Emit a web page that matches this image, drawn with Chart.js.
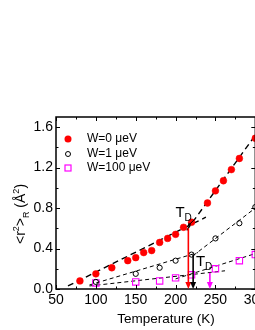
<!DOCTYPE html>
<html>
<head>
<meta charset="utf-8">
<script src="https://cdn.jsdelivr.net/npm/chart.js@4.4.1/dist/chart.umd.min.js"></script>
<style>
  html, body { margin: 0; padding: 0; background: #fff; overflow: hidden; }
  #wrap { width: 270px; height: 330px; }
</style>
</head>
<body>
<div id="wrap"><canvas id="msdChart"></canvas></div>
<script>
// W = 0 ueV (red filled circles)
const tempW0 = [80, 100, 120, 140, 150, 160, 170, 180, 190, 200, 210, 220, 240, 250, 260, 270, 280, 300];
const msdW0  = [0.08, 0.15, 0.21, 0.28, 0.31, 0.36, 0.38, 0.46, 0.50, 0.54, 0.61, 0.66, 0.85, 0.97, 1.07, 1.18, 1.29, 1.49];
// W = 1 ueV (open black circles)
const tempW1 = [100, 150, 180, 200, 220, 250, 280, 300];
const msdW1  = [0.07, 0.15, 0.21, 0.28, 0.34, 0.50, 0.65, 0.81];
// W = 100 ueV (open magenta squares)
const tempW100 = [100, 150, 180, 200, 220, 250, 280, 300];
const msdW100  = [0.06, 0.07, 0.08, 0.11, 0.14, 0.20, 0.28, 0.34];

// dashed linear fits: [T0, y0, T1, y1]
const fitW0Low   = [65, 0.03, 238, 0.71];
const fitW0High  = [214, 0.58, 300, 1.52];
const fitW1Low   = [92, 0.04, 228, 0.36];
const fitW1High  = [222, 0.33, 300, 0.80];
const fitW100Low = [92, 0.03, 262, 0.18];
const fitW100High= [200, 0.10, 300, 0.35];

// dynamical transition arrows
const tdTemps  = [216, 222, 243];
const tdTops   = [0.60, 0.34, 0.16];
const tdColors = ['#ff0000', '#000000', '#ff00ff'];
// "T_D" labels [T, y]
const tdLabels = [[206, 0.77], [232, 0.29]];
const tdPointer = [224, 0.69, 215, 0.62];

const legendNames = ['W=0 \u03bceV', 'W=1 \u03bceV', 'W=100 \u03bceV'];
const xMajor = [50, 100, 150, 200, 250, 300];
const xMinor = [75, 125, 175, 225, 275];
const yMajor = [0, 0.4, 0.8, 1.2, 1.6];
const yMinor = [0.2, 0.6, 1.0, 1.4];

const FONT = "'Liberation Sans', Arial, sans-serif";
const pts = (xs, ys) => xs.map((x, i) => ({ x: x, y: ys[i] }));
const seg = f => [{ x: f[0], y: f[1] }, { x: f[2], y: f[3] }];

function fitSet(f, w, dash) {
  return { data: seg(f), showLine: true, borderColor: '#000', borderWidth: w,
           borderDash: dash, pointRadius: 0, fill: false };
}

const decor = {
  id: 'decor',
  afterDatasetsDraw(chart) {
    const ctx = chart.ctx, a = chart.chartArea;
    const xs = chart.scales.x, ys = chart.scales.y;
    ctx.save();
    // frame
    ctx.strokeStyle = '#000';
    ctx.lineWidth = 1.5;
    ctx.strokeRect(a.left, a.top, a.right - a.left, a.bottom - a.top);
    // inward ticks
    ctx.lineWidth = 1;
    const tick = (vals, len) => {
      vals.forEach(v => {
        const px = Math.round(xs.getPixelForValue(v)) + 0.5;
        ctx.beginPath();
        ctx.moveTo(px, a.bottom); ctx.lineTo(px, a.bottom - len);
        ctx.moveTo(px, a.top); ctx.lineTo(px, a.top + len);
        ctx.stroke();
      });
    };
    tick(xMajor, 4); tick(xMinor, 2.5);
    const ytick = (vals, len) => {
      vals.forEach(v => {
        const py = Math.round(ys.getPixelForValue(v)) + 0.5;
        ctx.beginPath();
        ctx.moveTo(a.left, py); ctx.lineTo(a.left + len, py);
        ctx.moveTo(a.right, py); ctx.lineTo(a.right - len, py);
        ctx.stroke();
      });
    };
    ytick(yMajor, 4); ytick(yMinor, 2.5);

    // T_D arrows
    tdTemps.forEach((t, i) => {
      const px = xs.getPixelForValue(t);
      const top = ys.getPixelForValue(tdTops[i]);
      const bot = ys.getPixelForValue(0);
      ctx.strokeStyle = tdColors[i];
      ctx.fillStyle = tdColors[i];
      ctx.lineWidth = 1.6;
      ctx.beginPath();
      ctx.moveTo(px, top); ctx.lineTo(px, bot - 6);
      ctx.stroke();
      ctx.beginPath();
      ctx.moveTo(px - 3, bot - 7); ctx.lineTo(px + 3, bot - 7); ctx.lineTo(px, bot);
      ctx.closePath(); ctx.fill();
    });
    // small pointer from label to kink
    {
      const x0 = xs.getPixelForValue(tdPointer[0]), y0 = ys.getPixelForValue(tdPointer[1]);
      const x1 = xs.getPixelForValue(tdPointer[2]), y1 = ys.getPixelForValue(tdPointer[3]);
      ctx.strokeStyle = '#000'; ctx.fillStyle = '#000'; ctx.lineWidth = 1;
      ctx.beginPath(); ctx.moveTo(x0, y0); ctx.lineTo(x1, y1); ctx.stroke();
      const ang = Math.atan2(y1 - y0, x1 - x0);
      ctx.beginPath();
      ctx.moveTo(x1, y1);
      ctx.lineTo(x1 - 4 * Math.cos(ang - 0.5), y1 - 4 * Math.sin(ang - 0.5));
      ctx.lineTo(x1 - 4 * Math.cos(ang + 0.5), y1 - 4 * Math.sin(ang + 0.5));
      ctx.closePath(); ctx.fill();
    }
    // T_D labels
    ctx.fillStyle = '#000';
    ctx.textBaseline = 'alphabetic';
    ctx.textAlign = 'left';
    tdLabels.forEach(l => {
      const px = xs.getPixelForValue(l[0]), py = ys.getPixelForValue(l[1]);
      ctx.font = '15px ' + FONT;
      ctx.fillText('T', px - 5, py + 6);
      ctx.font = '10px ' + FONT;
      ctx.fillText('D', px + 4, py + 10);
    });

    // legend
    const lx = 68, ly = [139, 154, 168];
    ctx.fillStyle = '#ff0000';
    ctx.beginPath(); ctx.arc(lx, ly[0], 3.5, 0, Math.PI * 2); ctx.fill();
    ctx.strokeStyle = '#000'; ctx.lineWidth = 1;
    ctx.beginPath(); ctx.arc(lx, ly[1], 2.5, 0, Math.PI * 2); ctx.stroke();
    ctx.strokeStyle = '#ff00ff'; ctx.lineWidth = 1.2;
    ctx.strokeRect(lx - 3, ly[2] - 3, 6, 6);
    ctx.fillStyle = '#000';
    ctx.font = '12px ' + FONT;
    ctx.textBaseline = 'middle';
    legendNames.forEach((n, i) => ctx.fillText(n, 87, ly[i]));

    // x title
    ctx.textAlign = 'center';
    ctx.font = '13.5px ' + FONT;
    ctx.fillText('Temperature (K)', 166, 319);

    // y title, rotated
    ctx.translate(25, 214);
    ctx.rotate(-Math.PI / 2);
    ctx.textAlign = 'left';
    ctx.textBaseline = 'alphabetic';
    const parts = [
      ['<r', 14, 0], ['2', 9, -6], ['>', 14, 0], ['R', 9, 4],
      [' (\u00c5', 14, 0], ['2', 9, -6], [')', 14, 0]
    ];
    let total = 0;
    parts.forEach(p => { ctx.font = p[1] + 'px ' + FONT; total += ctx.measureText(p[0]).width; });
    let cx = -total / 2;
    parts.forEach(p => {
      ctx.font = p[1] + 'px ' + FONT;
      ctx.fillText(p[0], cx, p[2]);
      cx += ctx.measureText(p[0]).width;
    });
    ctx.restore();
  }
};

const ctx = document.getElementById('msdChart').getContext('2d');
const msdChart = new Chart(ctx, {
  type: 'scatter',
  data: {
    datasets: [
      { data: pts(tempW0, msdW0), pointStyle: 'circle', pointRadius: 3.4,
        backgroundColor: '#ff0000', borderColor: '#ff0000', borderWidth: 0.5 },
      { data: pts(tempW1, msdW1), pointStyle: 'circle', pointRadius: 2.6,
        backgroundColor: 'rgba(0,0,0,0)', borderColor: '#000', borderWidth: 1 },
      { data: pts(tempW100, msdW100), pointStyle: 'rect', pointRadius: 4.5,
        backgroundColor: 'rgba(0,0,0,0)', borderColor: '#ff00ff', borderWidth: 1.1 },
      fitSet(fitW0Low, 1.4, [6, 4]),
      fitSet(fitW0High, 1.4, [6, 4]),
      fitSet(fitW1Low, 1, [4, 3]),
      fitSet(fitW1High, 1, [4, 3]),
      fitSet(fitW100Low, 1, [4, 3]),
      fitSet(fitW100High, 1, [4, 3])
    ]
  },
  options: {
    responsive: true,
    maintainAspectRatio: false,
    animation: false,
    layout: { padding: { top: 117, right: 13, left: 0, bottom: 0 } },
    plugins: { legend: { display: false }, tooltip: { enabled: false } },
    scales: {
      x: {
        type: 'linear', min: 50, max: 300,
        grid: { display: false, drawTicks: false },
        border: { display: false },
        ticks: { stepSize: 50, padding: 3, color: '#000', font: { family: FONT, size: 14 },
                 maxRotation: 0, autoSkip: false },
        afterFit: s => { s.height = 41; }
      },
      y: {
        type: 'linear', min: 0, max: 1.7,
        grid: { display: false, drawTicks: false },
        border: { display: false },
        ticks: { stepSize: 0.4, includeBounds: false, padding: 3, color: '#000',
                 font: { family: FONT, size: 14 }, callback: v => v.toFixed(1) },
        afterFit: s => { s.width = 56; }
      }
    }
  },
  plugins: [decor]
});
</script>
</body>
</html>
